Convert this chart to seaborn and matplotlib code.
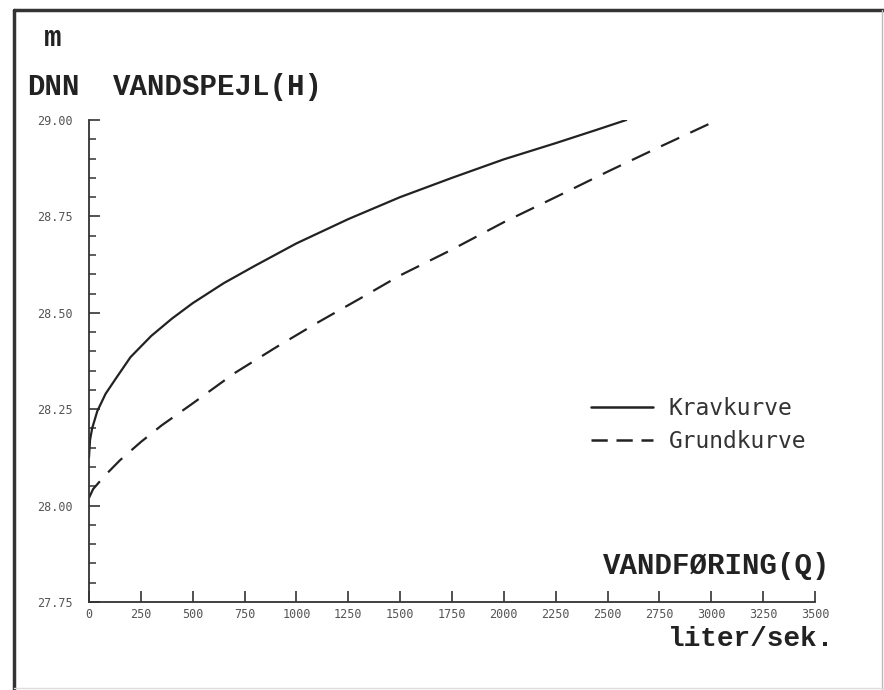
import seaborn as sns
import matplotlib.pyplot as plt
from matplotlib.lines import Line2D
from matplotlib.ticker import MultipleLocator
import pandas as pd

# values (Q in liter/sek, H in m DNN)
krav_q = [0, 5, 15, 40, 80, 130, 200, 300, 400, 500, 650, 800, 1000, 1250, 1500,
          1750, 2000, 2250, 2450, 2590]
krav_h = [28.125, 28.17, 28.20, 28.245, 28.29, 28.33, 28.385, 28.44, 28.485, 28.525,
          28.577, 28.622, 28.68, 28.743, 28.80, 28.85, 28.898, 28.94, 28.975, 29.00]
grund_q = [0, 20, 75, 150, 250, 350, 500, 700, 900, 1100, 1300, 1500, 1750, 2000,
           2250, 2500, 2750, 3030]
grund_h = [28.02, 28.043, 28.077, 28.118, 28.165, 28.208, 28.265, 28.343, 28.41,
           28.474, 28.535, 28.597, 28.664, 28.735, 28.80, 28.866, 28.93, 29.00]
x_ticks = list(range(0, 3501, 250))
y_ticks = [27.75, 28.00, 28.25, 28.50, 28.75, 29.00]

krav = pd.DataFrame({"Q": krav_q, "H": krav_h})
grund = pd.DataFrame({"Q": grund_q, "H": grund_h})

sns.set_style("ticks")
mono = "Liberation Mono"
ink = "#222222"

fig = plt.figure(figsize=(8.84, 6.90), dpi=100)
ax = fig.add_axes([89 / 884, 1 - 602 / 690, (815 - 89) / 884, (602 - 120) / 690])

sns.lineplot(x="Q", y="H", data=krav, ax=ax, color=ink, linewidth=1.6)
sns.lineplot(x="Q", y="H", data=grund, ax=ax, color=ink, linewidth=1.6)
ax.lines[-1].set_dashes((9, 5.5))

ax.set_xlim(0, 3500)
ax.set_ylim(27.75, 29.0)
ax.set_xticks(x_ticks)
ax.set_yticks(y_ticks)
ax.set_xticklabels([str(v) for v in x_ticks])
ax.set_yticklabels(["%.2f" % v for v in y_ticks])
ax.yaxis.set_minor_locator(MultipleLocator(0.05))
ax.tick_params(axis="both", which="major", direction="in", length=8, width=1.2,
               colors="#333333", labelcolor="#555555", labelsize=8.5,
               bottom=True, left=True)
ax.tick_params(axis="y", which="minor", direction="in", length=5, width=1.1,
               colors="#333333", left=True)
ax.tick_params(axis="y", which="major", pad=12)
ax.tick_params(axis="x", which="major", pad=4)
for lab in ax.get_xticklabels() + ax.get_yticklabels():
    lab.set_family("DejaVu Sans Mono")
ax.set_xlabel("")
ax.set_ylabel("")
sns.despine(ax=ax)
for s in ["left", "bottom"]:
    ax.spines[s].set_linewidth(1.3)
    ax.spines[s].set_color("#333333")

# axis titles in plotter style
tkw = dict(family=mono, weight="bold", fontsize=21, color=ink)
fig.text(44 / 884, 1 - 38 / 690, "m", va="center", ha="left", **tkw)
fig.text(27 / 884, 1 - 87 / 690, "DNN", va="center", ha="left", **tkw)
fig.text(113 / 884, 1 - 87 / 690, "VANDSPEJL(H)", va="center", ha="left", **tkw)
fig.text(830 / 884, 1 - 566 / 690, "VANDFØRING(Q)", va="center", ha="right", **tkw)
fig.text(834 / 884, 1 - 646 / 690, "liter/sek.", va="baseline", ha="right",
         family=mono, weight="bold", fontsize=20, color=ink)

handles = [Line2D([], [], color=ink, linewidth=1.8),
           Line2D([], [], color=ink, linewidth=1.8, dashes=(6.5, 3.5))]
leg = ax.legend(handles, ["Kravkurve", "Grundkurve"], loc="center left",
                bbox_to_anchor=((570 - 89) / (815 - 89), (602 - 425) / (602 - 120)),
                frameon=False, handlelength=2.7, handletextpad=0.7, labelspacing=0.4,
                prop={"family": "DejaVu Sans Mono", "size": 16.5})
for t in leg.get_texts():
    t.set_color("#333333")

# scanned page border
fig.add_artist(Line2D([14 / 884, 14 / 884], [0, 1 - 10 / 690], color="#333333",
                      linewidth=2.5, transform=fig.transFigure))
fig.add_artist(Line2D([14 / 884, 1], [1 - 10 / 690, 1 - 10 / 690], color="#333333",
                      linewidth=2.5, transform=fig.transFigure))
fig.add_artist(Line2D([882 / 884, 882 / 884], [0, 1 - 10 / 690], color="#bbbbbb",
                      linewidth=1, transform=fig.transFigure))
fig.add_artist(Line2D([14 / 884, 1], [2 / 690, 2 / 690], color="#dddddd",
                      linewidth=1, transform=fig.transFigure))

fig.savefig("out.png", dpi=100)
